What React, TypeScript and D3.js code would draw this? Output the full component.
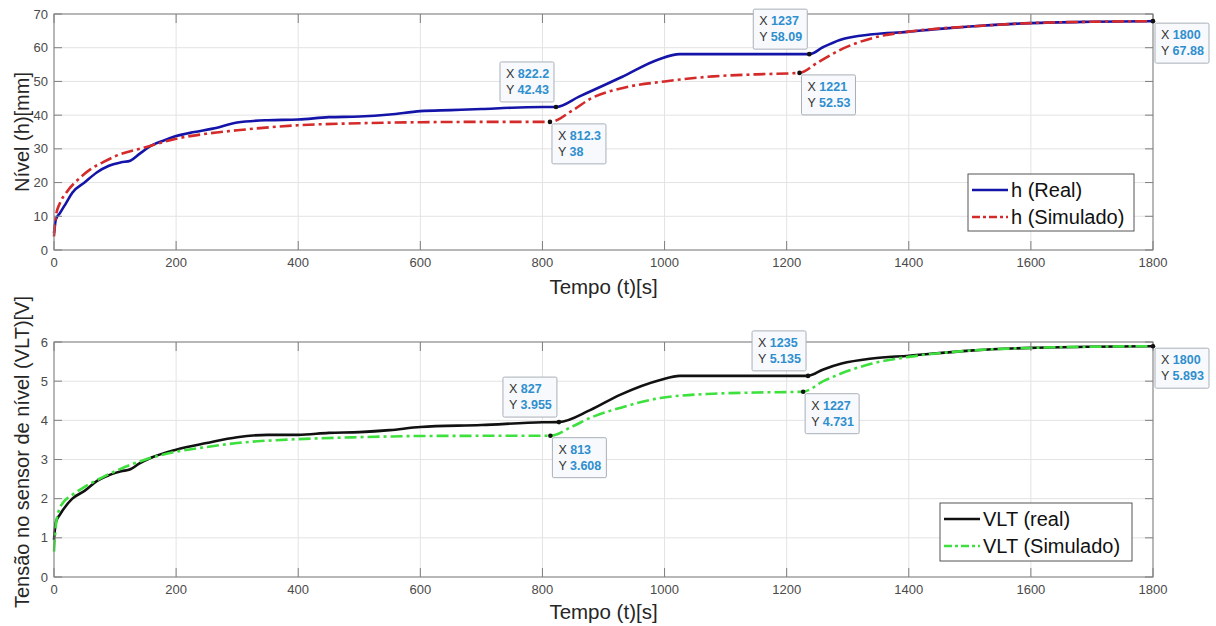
import React from "react";
import * as d3 from "d3";

// ---------- DATA ----------
const hRealT = [0, 3, 10, 20, 30, 50, 70, 90, 110, 125, 140, 160, 180, 200, 230, 260, 300, 350, 400, 450, 500, 550, 600, 650, 700, 750, 800, 822.2, 860, 930, 990, 1025, 1100, 1200, 1237, 1260, 1287, 1341, 1397, 1450, 1500, 1600, 1700, 1800];
const hRealV = [5, 9, 11, 14, 17, 20, 23, 25, 26, 26.5, 28.5, 31, 32.5, 33.8, 35, 36, 37.8, 38.5, 38.7, 39.4, 39.6, 40.2, 41.2, 41.5, 41.8, 42.2, 42.4, 42.43, 45.5, 51.3, 56.5, 58.09, 58.09, 58.09, 58.09, 60.2, 62.3, 64.0, 64.7, 65.6, 66.3, 67.3, 67.7, 67.88];
const hSimT = [0, 3, 10, 20, 40, 60, 80, 100, 150, 200, 250, 300, 400, 500, 600, 700, 812.3, 850, 880, 930, 1000, 1080, 1150, 1221, 1250, 1287, 1341, 1397, 1450, 1500, 1600, 1700, 1800];
const hSimV = [4, 10, 14, 17, 21, 24, 26, 27.8, 30.5, 33, 34.5, 35.5, 37, 37.6, 37.9, 38, 38, 41.5, 45, 48, 50, 51.5, 52.1, 52.53, 55.5, 59.3, 62.9, 64.7, 65.7, 66.3, 67.3, 67.7, 67.88];

const vRealT = [0, 3, 10, 30, 50, 70, 90, 110, 125, 140, 160, 200, 250, 300, 350, 400, 450, 500, 550, 600, 700, 800, 827, 878, 927, 993, 1025, 1100, 1200, 1235, 1260, 1290, 1340, 1400, 1500, 1600, 1700, 1800];
const vRealV = [0.95, 1.4, 1.6, 2.0, 2.2, 2.45, 2.6, 2.7, 2.75, 2.9, 3.05, 3.25, 3.42, 3.57, 3.63, 3.63, 3.68, 3.7, 3.75, 3.83, 3.88, 3.95, 3.955, 4.26, 4.65, 5.03, 5.135, 5.135, 5.135, 5.135, 5.3, 5.45, 5.58, 5.65, 5.78, 5.85, 5.88, 5.893];
const vSimT = [0, 3, 8, 15, 30, 50, 80, 100, 150, 200, 250, 300, 400, 500, 600, 700, 813, 850, 878, 930, 993, 1080, 1150, 1227, 1260, 1290, 1340, 1400, 1500, 1600, 1700, 1800];
const vSimV = [0.65, 1.3, 1.7, 1.9, 2.1, 2.3, 2.55, 2.7, 3.0, 3.2, 3.32, 3.42, 3.52, 3.57, 3.6, 3.605, 3.608, 3.85, 4.06, 4.33, 4.57, 4.68, 4.71, 4.731, 5.0, 5.2, 5.45, 5.62, 5.78, 5.85, 5.88, 5.893];

const xTicks = [0, 200, 400, 600, 800, 1000, 1200, 1400, 1600, 1800];
const hTicks = [0, 10, 20, 30, 40, 50, 60, 70];
const vTicks = [0, 1, 2, 3, 4, 5, 6];

// data tips: [x, y, xLabel, yLabel, placement]
const hTips: [number, number, string, string, string][] = [
  [822.2, 42.43, "822.2", "42.43", "ul"],
  [812.3, 38, "812.3", "38", "lr"],
  [1237, 58.09, "1237", "58.09", "ul"],
  [1221, 52.53, "1221", "52.53", "lr"],
  [1800, 67.88, "1800", "67.88", "lr"],
];
const vTips: [number, number, string, string, string][] = [
  [827, 3.955, "827", "3.955", "ul"],
  [813, 3.608, "813", "3.608", "lr"],
  [1235, 5.135, "1235", "5.135", "ul"],
  [1227, 4.731, "1227", "4.731", "lr"],
  [1800, 5.893, "1800", "5.893", "lr"],
];

const FONT = "'Liberation Sans', Arial, sans-serif";
const DASHDOT = "12,4,3,4";

type Series = { t: number[]; v: number[]; color: string; dash?: string; label: string };

function Panel(props: {
  top: number; bottom: number; yMax: number; yTicks: number[];
  series: Series[]; tips: [number, number, string, string, string][];
  ylabel: string; ylabelY: number; xlabelY: number;
  legend: { x: number; y: number; w: number; h: number };
}) {
  const { top, bottom, yMax, yTicks, series, tips, ylabel, ylabelY, xlabelY, legend } = props;
  const left = 54, right = 1153;
  const x = d3.scaleLinear().domain([0, 1800]).range([left, right]);
  const y = d3.scaleLinear().domain([0, yMax]).range([bottom, top]);
  const line = d3.line<[number, number]>().x(d => x(d[0])).y(d => y(d[1])).curve(d3.curveMonotoneX);
  const axisC = "#7f7f7f";
  const txtC = "#4a4a4a";
  return (
    <g>
      {xTicks.map(t => (
        <line key={"gx" + t} x1={x(t)} x2={x(t)} y1={top} y2={bottom} stroke="#e3e3e3" strokeWidth={1} />
      ))}
      {yTicks.map(t => (
        <line key={"gy" + t} x1={left} x2={right} y1={y(t)} y2={y(t)} stroke="#e3e3e3" strokeWidth={1} />
      ))}
      {series.map((s, i) => (
        <path key={i} d={line(s.t.map((t, j) => [t, s.v[j]] as [number, number])) || ""}
          fill="none" stroke={s.color} strokeWidth={2.6} strokeDasharray={s.dash} strokeLinejoin="round" />
      ))}
      <rect x={left} y={top} width={right - left} height={bottom - top} fill="none" stroke={axisC} strokeWidth={1} />
      {xTicks.map(t => (
        <g key={"tx" + t}>
          <line x1={x(t)} x2={x(t)} y1={bottom} y2={bottom - 9} stroke={axisC} />
          <line x1={x(t)} x2={x(t)} y1={top} y2={top + 9} stroke={axisC} />
          <text x={x(t)} y={bottom + 17} textAnchor="middle" fontSize={13} fill={txtC} fontFamily={FONT}>{t}</text>
        </g>
      ))}
      {yTicks.map(t => (
        <g key={"ty" + t}>
          <line x1={left} x2={left + 8} y1={y(t)} y2={y(t)} stroke={axisC} />
          <line x1={right} x2={right - 8} y1={y(t)} y2={y(t)} stroke={axisC} />
          <text x={48} y={y(t) + 4.5} textAnchor="end" fontSize={13} fill={txtC} fontFamily={FONT}>{t}</text>
        </g>
      ))}
      <text x={(left + right) / 2} y={xlabelY} textAnchor="middle" fontSize={20.5} fill="#262626" fontFamily={FONT}>Tempo (t)[s]</text>
      <text transform={`translate(29,${ylabelY}) rotate(-90)`} textAnchor="middle" fontSize={20} fill="#262626" fontFamily={FONT}>{ylabel}</text>
      <rect x={legend.x} y={legend.y} width={legend.w} height={legend.h} fill="#fff" stroke="#555" strokeWidth={1} />
      {series.map((s, i) => {
        const ly = legend.y + 16 + i * 27;
        return (
          <g key={"lg" + i}>
            <line x1={legend.x + 4} x2={legend.x + 40} y1={ly} y2={ly} stroke={s.color} strokeWidth={2.6} strokeDasharray={s.dash ? "8,3,3,3" : undefined} />
            <text x={legend.x + 43} y={ly + 7} fontSize={20} fill="#111" fontFamily={FONT}>{s.label}</text>
          </g>
        );
      })}
      {tips.map((tp, i) => {
        const px = x(tp[0]), py = y(tp[1]);
        const w = 54, h = 40;
        const bx = tp[4] === "ul" ? px - w - 2 : px + 2;
        const by = tp[4] === "ul" ? py - h - 5 : py + 2;
        return (
          <g key={"tip" + i}>
            <rect x={bx} y={by} width={w} height={h} fill="#f7f9fc" stroke="#a9b0b8" strokeWidth={1} rx={1.5} />
            <text x={bx + 6} y={by + 16} fontSize={12.5} fontFamily={FONT} fill="#333">X <tspan fill="#2f8fce" fontWeight="bold">{tp[2]}</tspan></text>
            <text x={bx + 6} y={by + 32} fontSize={12.5} fontFamily={FONT} fill="#333">Y <tspan fill="#2f8fce" fontWeight="bold">{tp[3]}</tspan></text>
            <circle cx={px} cy={py} r={2.3} fill="#111" />
          </g>
        );
      })}
    </g>
  );
}

export default function App() {
  const hSeries: Series[] = [
    { t: hRealT, v: hRealV, color: "#1414a8", label: "h (Real)" },
    { t: hSimT, v: hSimV, color: "#d42a2a", dash: DASHDOT, label: "h (Simulado)" },
  ];
  const vSeries: Series[] = [
    { t: vRealT, v: vRealV, color: "#111111", label: "VLT (real)" },
    { t: vSimT, v: vSimV, color: "#3ee03e", dash: DASHDOT, label: "VLT (Simulado)" },
  ];
  return (
    <div style={{ position: "fixed", left: 0, top: 0, background: "#fff" }}>
      <svg width={1216} height={626} style={{ display: "block" }}>
        <rect width={1216} height={626} fill="#fff" />
        <Panel top={14} bottom={250} yMax={70} yTicks={hTicks} series={hSeries} tips={hTips}
          ylabel="Nível (h)[mm]" ylabelY={132} xlabelY={294}
          legend={{ x: 968, y: 174, w: 166, h: 57 }} />
        <Panel top={342} bottom={577} yMax={6} yTicks={vTicks} series={vSeries} tips={vTips}
          ylabel="Tensão no sensor de nível (VLT)[V]" ylabelY={452} xlabelY={619}
          legend={{ x: 940, y: 503, w: 192, h: 58 }} />
      </svg>
    </div>
  );
}
